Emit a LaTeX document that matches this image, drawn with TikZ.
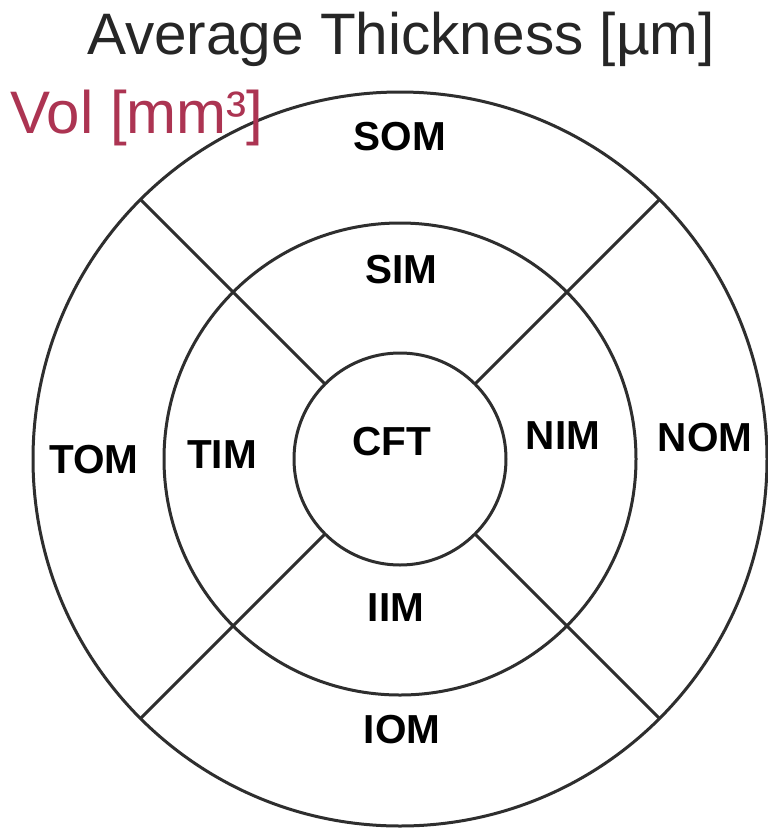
\documentclass[tikz,border=0pt]{standalone}
\usepackage{fontspec}
\setmainfont{Liberation Sans}
\begin{document}
\begin{tikzpicture}[x=1pt,y=-1pt,
  ring/.style={draw=black!82, line width=3pt},
  spoke/.style={draw=black!82, line width=3pt},
  lbl/.style={font=\fontsize{40.5}{40.5}\selectfont\bfseries, inner sep=0pt, anchor=center},
  ttl/.style={font=\fontsize{58.5}{58.5}\selectfont, inner sep=0pt, text=black!85},
  voltxt/.style={font=\fontsize{60}{60}\selectfont, inner sep=0pt, text=volred}]
\definecolor{volred}{RGB}{172,52,82}
\useasboundingbox (0,0) rectangle (768,828);
\fill[white] (0,0) rectangle (768,828);
\coordinate (ctr) at (400,459);
\draw[ring] (ctr) circle[radius=367pt];
\draw[ring] (ctr) circle[radius=236pt];
\draw[ring] (ctr) circle[radius=106pt];
\foreach \a in {45,135,225,315}{
  \draw[spoke] ([shift={(\a:106pt)}]ctr) -- ([shift={(\a:366pt)}]ctr);
}
\node[ttl, anchor=base] (title) at (401,54) {Average Thickness [µm]};
\node[voltxt, anchor=base west] (vol) at (10,133) {Vol [mm³]};
\node[lbl] (som) at (400,137) {SOM};
\node[lbl] (sim) at (401,270) {SIM};
\node[lbl] (tom) at (94,460) {TOM};
\node[lbl] (tim) at (222,455) {TIM};
\node[lbl] (cft) at (392,442) {CFT};
\node[lbl] (nim) at (563,436) {NIM};
\node[lbl] (nom) at (705,438) {NOM};
\node[lbl] (iim) at (396,608) {IIM};
\node[lbl] (iom) at (402,730) {IOM};
\end{tikzpicture}
\end{document}
